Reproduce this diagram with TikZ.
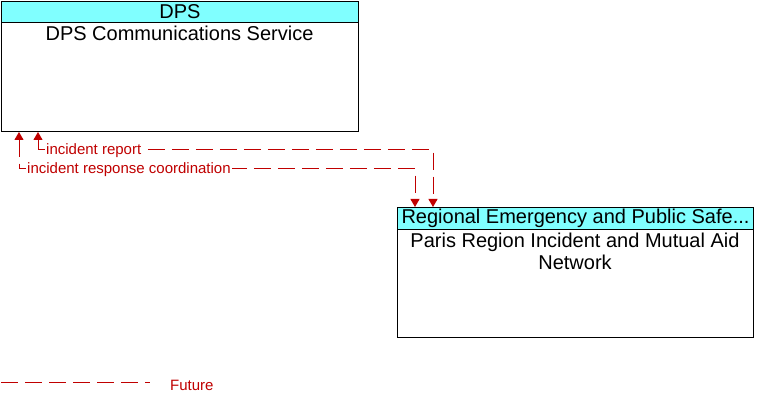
\documentclass[tikz,border=0pt]{standalone}
\usepackage{fontspec}
\setmainfont{Liberation Sans}
\usetikzlibrary{arrows.meta}
\definecolor{hdrcyan}{RGB}{128,255,255}
\definecolor{flowred}{RGB}{192,0,0}
\tikzset{
  box/.style={draw=black, line width=1pt, fill=white, rectangle, inner sep=0pt, anchor=north west},
  hdr/.style={draw=black, line width=1pt, fill=hdrcyan, rectangle, inner sep=0pt, anchor=north west, font=\fontsize{20}{22}\selectfont},
  bodytext/.style={align=center, inner sep=0pt, anchor=north, font=\fontsize{20}{22}\selectfont},
  flowline/.style={draw=flowred, line width=1pt, dash pattern=on 17pt off 7pt},
  tip/.style={{Triangle[width=9pt,length=8pt]}-{Triangle[width=9pt,length=8pt]}},
  lbl/.style={text=flowred, fill=white, inner sep=1pt, anchor=west, font=\fontsize{15}{17}\selectfont},
}
\begin{document}
\begin{tikzpicture}[x=1pt,y=-1pt]
\useasboundingbox (0,0) rectangle (764,403);
% DPS box
\node[box, minimum width=357pt, minimum height=130pt] (dps) at (1,1) {};
\node[hdr, minimum width=357pt, minimum height=21pt] (dpsh) at (1,1) {DPS};
\node[bodytext] (dpst) at (179.5,26) {DPS Communications Service};
% Regional box
\node[box, minimum width=356pt, minimum height=130pt] (reg) at (397,207) {};
\node[hdr, minimum width=356pt, minimum height=22pt] (regh) at (397,207) {Regional Emergency and Public Safe...};
\node[bodytext] (regt) at (575,233) {Paris Region Incident and Mutual Aid\\Network};
% connectors
\coordinate (a1) at (38,150);
\coordinate (a2) at (433,150);
\coordinate (b1) at (19,169);
\coordinate (b2) at (415,169);
\draw[flowline, tip] (dps.south west -| a1) -- (a1) -- (a2) -- (reg.north west -| a2);
\draw[flowline, tip] (dps.south west -| b1) -- (b1) -- (b2) -- (reg.north west -| b2);
\node[lbl] (la) at (45,151) {incident report};
\node[lbl] (lb) at (26,170) {incident response coordination};
% legend
\coordinate (f1) at (1,383);
\coordinate (f2) at (150,383);
\draw[flowline] (f1) -- (f2);
\node[lbl, inner sep=0pt] (fut) at (170,385) {Future};
\end{tikzpicture}
\end{document}
